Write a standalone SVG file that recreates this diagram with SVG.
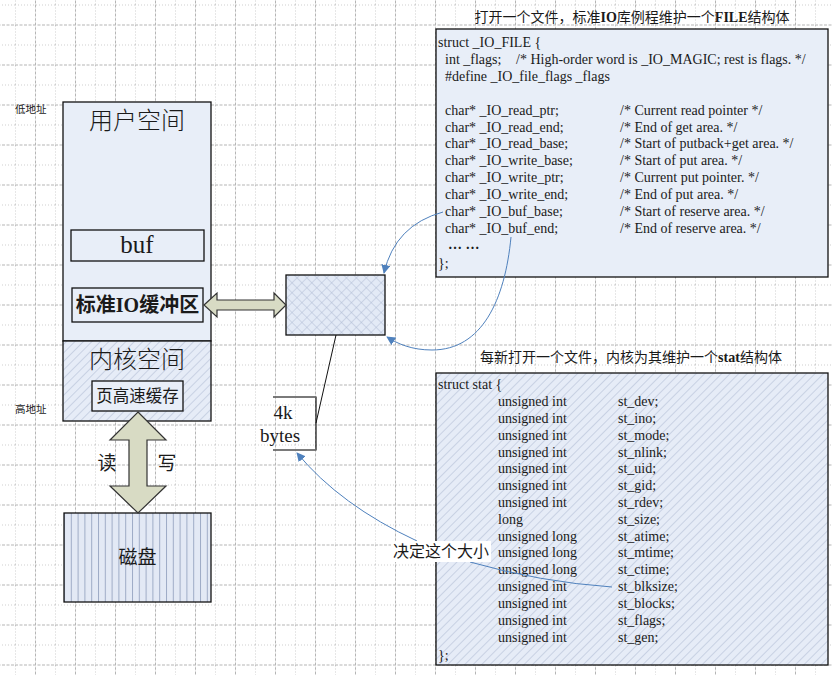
<svg xmlns="http://www.w3.org/2000/svg" width="833" height="675" viewBox="0 0 833 675">
<style>
.lat{font-family:"Liberation Serif","Noto Sans CJK SC",serif;fill:#1a1a1a}
.cjk{font-family:"Liberation Serif","Noto Sans CJK SC",serif;fill:#1a1a1a}
.code{font-family:"Liberation Serif",serif;font-size:14px;fill:#1a1a1a}
.box{stroke:#111;stroke-width:1.3}
.blue{fill:none;stroke:#4f81bd;stroke-width:1}
.blk{fill:#d8dbc4;stroke:#333;stroke-width:1.2}
</style>
<defs>
<pattern id="grid" x="15" y="4.5" width="40" height="40" patternUnits="userSpaceOnUse">
<path d="M0.5 0V40M0 0.5H40" stroke="#cfcfcf" stroke-width="1" stroke-dasharray="1 2" fill="none"/>
<path d="M20.5 0V40M0 20.5H40" stroke="#b5b5b5" stroke-width="1" stroke-dasharray="3 1.5" fill="none"/>
</pattern>
<pattern id="diag" width="6" height="6" patternUnits="userSpaceOnUse" patternTransform="rotate(45)">
<rect width="6" height="6" fill="#e6ecf7"/>
<line x1="0" y1="0" x2="0" y2="6" stroke="#b4c0d6" stroke-width="1.2"/>
</pattern>
<pattern id="cross" width="7" height="7" patternUnits="userSpaceOnUse" patternTransform="rotate(45)">
<rect width="7" height="7" fill="#e3eaf6"/>
<path d="M0 0V7M0 0H7" stroke="#aab8d0" stroke-width="0.9" fill="none"/>
</pattern>
<pattern id="vl" width="6.8" height="10" patternUnits="userSpaceOnUse" x="64">
<rect width="6.8" height="10" fill="#e3e9f5"/>
<line x1="0.5" y1="0" x2="0.5" y2="10" stroke="#9eabc6" stroke-width="1"/>
</pattern>
<marker id="ah" viewBox="0 0 10 10" refX="9" refY="5" markerWidth="9" markerHeight="9" markerUnits="userSpaceOnUse" orient="auto">
<path d="M0 0L10 5L0 10z" fill="#4f81bd"/>
</marker>
</defs>
<rect width="833" height="675" fill="#fff"/>
<rect width="833" height="675" fill="url(#grid)"/>

<text class="cjk" x="15" y="113" font-size="10.5">低地址</text>
<text class="cjk" x="15" y="413" font-size="10.5">高地址</text>

<g id="memory">
<rect x="63" y="102" width="148" height="239" fill="#e8eef8" class="box"/>
<rect x="63" y="341" width="148" height="80" fill="url(#diag)" class="box"/>
<text class="cjk" x="137" y="129" font-size="24" text-anchor="middle" font-weight="300">用户空间</text>
<text class="cjk" x="137" y="368" font-size="24" text-anchor="middle" font-weight="300">内核空间</text>
</g>
<g id="buf">
<rect x="71" y="230" width="133" height="31" fill="#e8eef8" class="box"/>
<text class="lat" x="137" y="253" font-size="25" text-anchor="middle">buf</text>
</g>
<g id="stdio-buffer">
<rect x="72" y="288" width="131" height="34" fill="#e8eef8" class="box"/>
<text class="cjk" x="137.5" y="312" font-size="20" text-anchor="middle" font-weight="bold">标准IO缓冲区</text>
</g>
<g id="page-cache">
<rect x="92" y="381" width="91" height="30" fill="#e8eef8" class="box"/>
<text class="cjk" x="137.5" y="402" font-size="16.5" text-anchor="middle">页高速缓存</text>
</g>
<g id="disk">
<rect x="64" y="513" width="147" height="89" fill="url(#vl)" class="box"/>
<text class="cjk" x="137.5" y="564" font-size="19" text-anchor="middle">磁盘</text>
</g>
<g id="io-block">
<rect x="286" y="275" width="99" height="60" fill="url(#cross)" class="box"/>
</g>
<g id="size-label">
<path d="M273 397H316V450H273" fill="none" stroke="#111" stroke-width="1.2"/>
<path d="M273 397H316M273 450H316" fill="none" stroke="#777" stroke-width="1.6"/>
<text class="lat" x="283" y="419" font-size="19" text-anchor="middle">4k</text>
<text class="lat" x="280" y="442" font-size="19" text-anchor="middle">bytes</text>
</g>

<g id="file-struct">
<text class="cjk" x="632" y="22" font-size="14" text-anchor="middle">打开一个文件，标准<tspan font-weight="bold">IO</tspan>库例程维护一个<tspan font-weight="bold">FILE</tspan>结构体</text>
<rect x="436" y="29" width="392" height="248" fill="#e8eef8" class="box"/>
<text class="code" x="438" y="47">struct _IO_FILE {</text>
<text class="code" x="445" y="64">int _flags;</text>
<text class="code" x="516" y="64">/* High-order word is _IO_MAGIC; rest is flags. */</text>
<text class="code" x="445" y="81">#define _IO_file_flags _flags</text>
<text class="code" x="445" y="115">char* _IO_read_ptr;</text><text class="code" x="620" y="115">/* Current read pointer */</text>
<text class="code" x="445" y="132">char* _IO_read_end;</text><text class="code" x="620" y="132">/* End of get area. */</text>
<text class="code" x="445" y="148">char* _IO_read_base;</text><text class="code" x="620" y="148">/* Start of putback+get area. */</text>
<text class="code" x="445" y="165">char* _IO_write_base;</text><text class="code" x="620" y="165">/* Start of put area. */</text>
<text class="code" x="445" y="182">char* _IO_write_ptr;</text><text class="code" x="620" y="182">/* Current put pointer. */</text>
<text class="code" x="445" y="199">char* _IO_write_end;</text><text class="code" x="620" y="199">/* End of put area. */</text>
<text class="code" x="445" y="216">char* _IO_buf_base;</text><text class="code" x="620" y="216">/* Start of reserve area. */</text>
<text class="code" x="445" y="233">char* _IO_buf_end;</text><text class="code" x="620" y="233">/* End of reserve area. */</text>
<text class="code" x="448" y="249" font-weight="bold">… …</text>
<text class="code" x="438" y="268">};</text>
</g>

<g id="stat-struct">
<text class="cjk" x="631" y="362" font-size="14" text-anchor="middle">每新打开一个文件，内核为其维护一个<tspan font-weight="bold">stat</tspan>结构体</text>
<rect x="436" y="373" width="392" height="292" fill="url(#diag)" class="box"/>
<text class="code" x="438" y="389">struct stat {</text>
<g class="code">
<text x="498" y="406">unsigned int</text><text x="618" y="406">st_dev;</text>
<text x="498" y="423">unsigned int</text><text x="618" y="423">st_ino;</text>
<text x="498" y="440">unsigned int</text><text x="618" y="440">st_mode;</text>
<text x="498" y="457">unsigned int</text><text x="618" y="457">st_nlink;</text>
<text x="498" y="473">unsigned int</text><text x="618" y="473">st_uid;</text>
<text x="498" y="490">unsigned int</text><text x="618" y="490">st_gid;</text>
<text x="498" y="507">unsigned int</text><text x="618" y="507">st_rdev;</text>
<text x="498" y="524">long</text><text x="618" y="524">st_size;</text>
<text x="498" y="541">unsigned long</text><text x="618" y="541">st_atime;</text>
<text x="498" y="557">unsigned long</text><text x="618" y="557">st_mtime;</text>
<text x="498" y="574">unsigned long</text><text x="618" y="574">st_ctime;</text>
<text x="498" y="591">unsigned int</text><text x="618" y="591">st_blksize;</text>
<text x="498" y="608">unsigned int</text><text x="618" y="608">st_blocks;</text>
<text x="498" y="625">unsigned int</text><text x="618" y="625">st_flags;</text>
<text x="498" y="642">unsigned int</text><text x="618" y="642">st_gen;</text>
</g>
<text class="code" x="438" y="660">};</text>
</g>

<g id="connectors">
<path class="blk" d="M204 305L217 293V300H274V293L286 305L274 317V310H217V317Z"/>
<path class="blk" d="M138 412L166 440H147V486H166L138 513L110 486H129V440H110Z"/>
<line x1="336" y1="335" x2="316" y2="423" stroke="#111" stroke-width="1"/>
<path class="blue" d="M443 212Q395 225 384 273" marker-end="url(#ah)"/>
<path class="blue" d="M511 237C505 300 482 350 432 350C412 350 398 344 387 337" marker-end="url(#ah)"/>
<path class="blue" d="M417 541Q340 505 297 453" marker-end="url(#ah)"/>
<path class="blue" d="M470 562Q540 582 612 587"/>
</g>
<g id="decide-label">
<rect x="391" y="541" width="100" height="21" fill="#fff"/>
<text class="cjk" x="441" y="557" font-size="16" text-anchor="middle">决定这个大小</text>
</g>
<text class="cjk" x="107" y="470" font-size="19" text-anchor="middle">读</text>
<text class="cjk" x="167" y="470" font-size="19" text-anchor="middle">写</text>
</svg>
